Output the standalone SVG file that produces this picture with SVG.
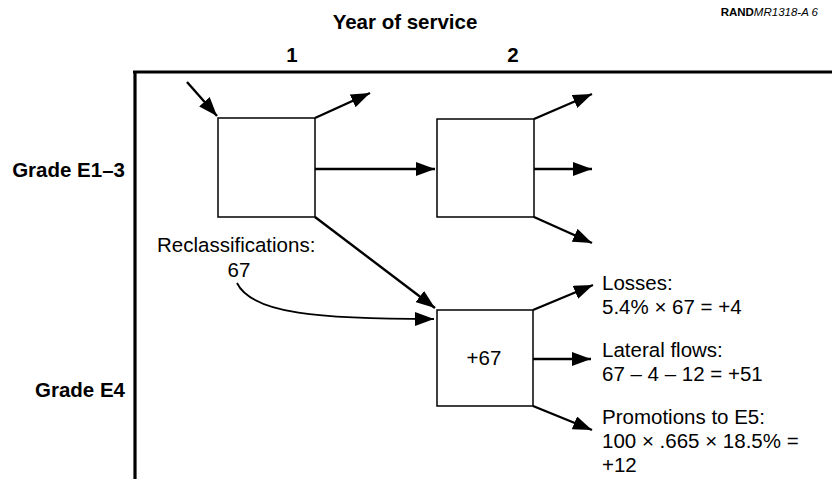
<svg xmlns="http://www.w3.org/2000/svg" width="832" height="490" viewBox="0 0 832 490">
<defs>
<marker id="ah" markerUnits="userSpaceOnUse" markerWidth="20" markerHeight="14" refX="19" refY="7" orient="auto">
<path d="M0,0 L19,7 L0,14 z" fill="#000"/>
</marker>
<style>
.b{font-family:"Liberation Sans",Arial,sans-serif;font-weight:bold;font-size:20.5px;fill:#000}
.r{font-family:"Liberation Sans",Arial,sans-serif;font-size:20.5px;fill:#000}
.box{fill:#fff;stroke:#000;stroke-width:1.5}
.ax{stroke:#000;stroke-width:3.2;fill:none}
.c{stroke:#000;stroke-width:2.4;fill:none;marker-end:url(#ah)}
.c2{stroke:#000;stroke-width:1.8;fill:none;marker-end:url(#ah)}
</style>
</defs>
<rect width="832" height="490" fill="#fff"/>
<g id="titles">
<text class="b" x="405" y="29" text-anchor="middle">Year of service</text>
<text x="818" y="16" text-anchor="end" font-family="Liberation Sans,Arial,sans-serif" font-size="11.5"><tspan font-weight="bold">RAND</tspan><tspan font-style="italic">MR1318-A 6</tspan></text>
<text class="b" x="292" y="62" text-anchor="middle">1</text>
<text class="b" x="513" y="62" text-anchor="middle">2</text>
<text class="b" x="125" y="177" text-anchor="end">Grade E1–3</text>
<text class="b" x="125" y="397" text-anchor="end">Grade E4</text>
</g>
<g id="axes">
<line class="ax" x1="133" y1="72" x2="832" y2="72"/>
<line class="ax" x1="135" y1="71" x2="135" y2="479"/>
</g>
<g id="connectors">
<line class="c" x1="187" y1="82" x2="217" y2="116"/>
<line class="c" x1="315" y1="118" x2="370" y2="93"/>
<line class="c" x1="315" y1="169" x2="435" y2="169"/>
<line class="c" x1="315" y1="217" x2="435" y2="308"/>
<path class="c2" d="M237,283 C252,314 320,319 434,319"/>
<line class="c" x1="534" y1="119" x2="592" y2="94"/>
<line class="c" x1="534" y1="169" x2="592" y2="169"/>
<line class="c" x1="534" y1="217" x2="592" y2="243"/>
<line class="c" x1="533" y1="310" x2="593" y2="285"/>
<line class="c" x1="533" y1="359" x2="591" y2="359"/>
<line class="c" x1="533" y1="406" x2="592" y2="430"/>
</g>
<g id="e13-y1"><rect class="box" x="218" y="118" width="97" height="99"/></g>
<g id="e13-y2"><rect class="box" x="437" y="119" width="97" height="98"/></g>
<g id="e4-y2"><rect class="box" x="437" y="310" width="96" height="96"/><text class="r" x="484" y="365" text-anchor="middle">+67</text></g>
<g id="reclass">
<text class="r" x="157" y="252">Reclassifications:</text>
<text class="r" x="239" y="277" text-anchor="middle">67</text>
</g>
<g id="losses">
<text class="r" x="602" y="290">Losses:</text>
<text class="r" x="602" y="314">5.4% × 67 = +4</text>
</g>
<g id="lateral">
<text class="r" x="602" y="357">Lateral flows:</text>
<text class="r" x="602" y="381">67 – 4 – 12 = +51</text>
</g>
<g id="promotions">
<text class="r" x="602" y="424">Promotions to E5:</text>
<text class="r" x="602" y="448">100 × .665 × 18.5% =</text>
<text class="r" x="602" y="472">+12</text>
</g>
</svg>
